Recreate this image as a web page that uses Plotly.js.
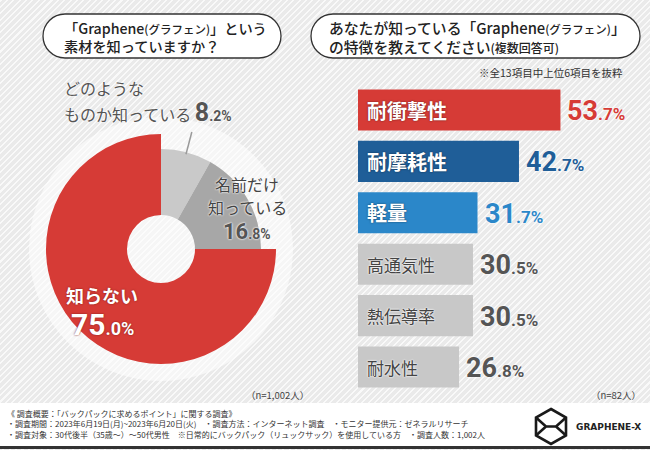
<!DOCTYPE html>
<html>
<head>
<meta charset="utf-8">
<script src="https://cdn.plot.ly/plotly-3.0.1.min.js"></script>
<style>
body { margin: 0; }
#chart {
    width: 650px;
    height: 450px;
    background-color: #eeeeee;
    background-image: repeating-linear-gradient(135deg, #f9f9f9 0px, #f9f9f9 1.5px, #eaeaea 1.5px, #eaeaea 4.5px);
}
</style>
</head>
<body>
<div id="chart"></div>
<script>
'use strict';

var W = 650, H = 450;

// Q1: awareness (n=1,002)
var awareLabels = ['どのような\nものか知っている', '名前だけ\n知っている', '知らない'];
var awareValues = [8.2, 16.8, 75.0];
var awareColors = ['#c9c9c9', '#a7a7a7', '#d63b36'];

// Q2: known features (n=82), top 6 of 13
var featLabels = ['耐衝撃性', '耐摩耗性', '軽量', '高通気性', '熱伝導率', '耐水性'];
var featValues = [53.7, 42.7, 31.7, 30.5, 30.5, 26.8];
var featColors = ['#d63b36', '#1f5e98', '#2b87c9', '#c8c8c8', '#c8c8c8', '#c8c8c8'];
var featValueColors = ['#d63b36', '#1f5e98', '#2b87c9', '#555555', '#555555', '#555555'];

var titles = [
    ['「Graphene<span style="font-size:11.5px">(グラフェン)</span>」という', '素材を知っていますか？'],
    ['あなたが知っている「Graphene<span style="font-size:11.5px">(グラフェン)</span>」', 'の特徴を教えてください<span style="font-size:12px">(複数回答可)</span>']
];
var footLines = [
    '《 調査概要：「バックパックに求めるポイント」に関する調査》',
    '・調査期間：2023年6月19日(月)~2023年6月20日(火)　・調査方法：インターネット調査　・モニター提供元：ゼネラルリサーチ',
    '・調査対象：30代後半（35歳〜）〜50代男性　※日常的にバックパック（リュックサック）を使用している方　・調査人数：1,002人'
];

var JP = 'Noto Sans CJK JP, sans-serif';
var NUM = 'Roboto, sans-serif';

function px (x) { return x / W; }
function py (y) { return 1 - y / H; }

function note (x, y, text, font, xanchor) {
    return {
        xref: 'paper', yref: 'paper', x: px(x), y: py(y),
        text: text, showarrow: false,
        xanchor: xanchor || 'left', yanchor: 'middle',
        align: xanchor === 'center' ? 'center' : 'left',
        font: font
    };
}

function pct (v, big, small) {
    var s = v.toFixed(1).split('.');
    return '<span style="font-size:' + big + 'px">' + s[0] + '</span>' +
        '<span style="font-size:' + small + 'px">.' + s[1] + '%</span>';
}

function pill (x0, y0, x1, y1) {
    var r = (y1 - y0) / 2, k = 0.5523 * r;
    var p = function (x, y) { return px(x).toFixed(5) + ',' + py(y).toFixed(5); };
    return 'M' + p(x0 + r, y0) + ' L' + p(x1 - r, y0) +
        ' C' + p(x1 - r + k, y0) + ' ' + p(x1, y0 + r - k) + ' ' + p(x1, y0 + r) +
        ' C' + p(x1, y0 + r + k) + ' ' + p(x1 - r + k, y1) + ' ' + p(x1 - r, y1) +
        ' L' + p(x0 + r, y1) +
        ' C' + p(x0 + r - k, y1) + ' ' + p(x0, y0 + r + k) + ' ' + p(x0, y0 + r) +
        ' C' + p(x0, y0 + r - k) + ' ' + p(x0 + r - k, y0) + ' ' + p(x0 + r, y0) + ' Z';
}

function poly (pts, close) {
    return pts.map(function (q, i) {
        return (i ? 'L' : 'M') + px(q[0]).toFixed(5) + ',' + py(q[1]).toFixed(5);
    }).join(' ') + (close ? ' Z' : '');
}

// Donut geometry (pixels)
var cx = 161, cy = 249, rOuter = 115, rInner = 100, rHole = 34;
function dom (r) {
    return { x: [px(cx - r), px(cx + r)], y: [py(cy + r), py(cy - r)] };
}

var outerColors = awareColors.map(function (c, i) { return i === 2 ? c : 'rgba(0,0,0,0)'; });
var innerColors = awareColors.map(function (c, i) { return i === 2 ? 'rgba(0,0,0,0)' : c; });

var traces = [
    {
        type: 'pie', values: awareValues, labels: awareLabels,
        marker: { colors: outerColors, line: { width: 0 } },
        domain: dom(rOuter), hole: rHole / rOuter,
        sort: false, direction: 'clockwise', rotation: 0,
        textinfo: 'none', hoverinfo: 'none', showlegend: false
    },
    {
        type: 'pie', values: awareValues, labels: awareLabels,
        marker: { colors: innerColors, line: { width: 0 } },
        domain: dom(rInner), hole: rHole / rInner,
        sort: false, direction: 'clockwise', rotation: 0,
        textinfo: 'none', hoverinfo: 'none', showlegend: false
    },
    {
        type: 'bar', orientation: 'h',
        x: featValues, y: featLabels,
        xaxis: 'x', yaxis: 'y',
        marker: { color: featColors, line: { width: 0 } },
        hoverinfo: 'none', showlegend: false
    }
];

var annotations = [];
var halo = '0px 0px 2px #ffffff, 0px 0px 2px #ffffff';
var numFont = function (size, color, shadow) {
    return { family: NUM, size: size, color: color, weight: 'bold', shadow: shadow || halo };
};
var labFont = { family: JP, size: 16, color: '#555', shadow: halo };

// titles in pills
annotations.push(note(62, 37, titles[0].join('<br>'), { family: JP, size: 14.2, color: '#222', weight: 500 }));
annotations.push(note(327, 36.5, titles[1].join('<br>'), { family: JP, size: 14.8, color: '#222', weight: 500 }));

// pie labels
var lab0 = awareLabels[0].split('\n');
annotations.push(note(62, 88, lab0[0], labFont));
annotations.push(note(62, 113, lab0[1] + ' <span style="font-family:Roboto;font-weight:bold">' +
    pct(awareValues[0], 25, 14) + '</span>', labFont));
var lab1 = awareLabels[1].split('\n');
annotations.push(note(247, 184, lab1[0], { family: JP, size: 16, color: '#444', shadow: halo }, 'center'));
annotations.push(note(247, 207, lab1[1], { family: JP, size: 16, color: '#444', shadow: halo }, 'center'));
annotations.push(note(247, 231, pct(awareValues[1], 22, 14), numFont(14, '#555'), 'center'));
annotations.push(note(102, 295, awareLabels[2],
    { family: JP, size: 18, color: '#ffffff', weight: 'bold', shadow: '0px 0px 2px #7a1a17' }, 'center'));
annotations.push(note(102, 324, pct(awareValues[2], 30, 18), numFont(18, '#ffffff', '0px 0px 2px #7a1a17'), 'center'));

// bar labels and values
featLabels.forEach(function (lab, i) {
    var coloured = i < 3;
    annotations.push({
        xref: 'x', yref: 'y', x: 0, y: lab, xanchor: 'left', yanchor: 'middle',
        xshift: 7, showarrow: false, text: lab,
        font: coloured ?
            { family: JP, size: 20, color: '#ffffff', weight: 'bold', shadow: '0px 0px 2px rgba(0,0,0,0.55)' } :
            { family: JP, size: 17, color: '#444444', shadow: halo }
    });
    annotations.push({
        xref: 'x', yref: 'y', x: featValues[i], y: lab, xanchor: 'left', yanchor: 'middle',
        xshift: 5, yshift: -1, showarrow: false, text: pct(featValues[i], 27, 17),
        font: numFont(17, featValueColors[i])
    });
});

annotations.push(note(625, 72, '※全13項目中上位6項目を抜粋', { family: JP, size: 10.5, color: '#333' }, 'right'));
annotations.push(note(311, 395, '（n=1,002人）', { family: JP, size: 9.5, color: '#444' }, 'right'));
annotations.push(note(643, 395, '（n=82人）', { family: JP, size: 9.5, color: '#444' }, 'right'));

annotations.push(note(5, 424, footLines.join('<br>'), { family: JP, size: 8, color: '#333' }));
annotations.push(note(574, 427, 'GRAPHENE-X', { family: 'DejaVu Sans, sans-serif', size: 9, color: '#222', weight: 'bold' }));

// leader line for the smallest slice, along its mid-angle
var midA = awareValues[0] / 2 / 100 * 2 * Math.PI;
var leader = [[cx + 98 * Math.sin(midA), cy - 98 * Math.cos(midA)], [cx + 121 * Math.sin(midA), cy - 121 * Math.cos(midA)]];

var shapes = [
    // soft halo behind donut
    { type: 'circle', xref: 'paper', yref: 'paper', layer: 'below',
        x0: px(cx - 132), x1: px(cx + 132), y0: py(cy + 132), y1: py(cy - 132),
        fillcolor: 'rgba(255,255,255,0.55)', line: { width: 0 } },
    // pills
    { type: 'path', xref: 'paper', yref: 'paper', layer: 'below', path: pill(43, 14, 281, 58),
        fillcolor: '#ffffff', line: { color: '#333', width: 1.3 } },
    { type: 'path', xref: 'paper', yref: 'paper', layer: 'below', path: pill(311, 14, 640, 58),
        fillcolor: '#ffffff', line: { color: '#333', width: 1.3 } },
    // footer band
    { type: 'rect', xref: 'paper', yref: 'paper', layer: 'below',
        x0: 0, x1: 1, y0: py(446), y1: py(403), fillcolor: '#ffffff', line: { width: 0 } },
    { type: 'rect', xref: 'paper', yref: 'paper', layer: 'below',
        x0: 0, x1: 1, y0: py(449), y1: py(446), fillcolor: '#333333', line: { width: 0 } },
    // leader
    { type: 'line', xref: 'paper', yref: 'paper',
        x0: px(leader[0][0]), y0: py(leader[0][1]), x1: px(leader[1][0]), y1: py(leader[1][1]),
        line: { color: '#9a9a9a', width: 1.5 } },
    // logo
    { type: 'path', xref: 'paper', yref: 'paper',
        path: poly([[551, 409], [566, 417.5], [566, 435.5], [551, 444], [536, 435.5], [536, 417.5]], true),
        line: { color: '#1a1a1a', width: 2.6 } },
    { type: 'path', xref: 'paper', yref: 'paper',
        path: poly([[536, 417.5], [546, 426.5], [536, 435.5]]) + ' ' +
            poly([[566, 417.5], [556, 426.5], [566, 435.5]]) + ' ' +
            poly([[546, 426.5], [556, 426.5]]),
        line: { color: '#1a1a1a', width: 2.6 } }
];

var layout = {
    width: W, height: H,
    margin: { l: 0, r: 0, t: 0, b: 0 },
    paper_bgcolor: 'rgba(0,0,0,0)',
    plot_bgcolor: 'rgba(0,0,0,0)',
    showlegend: false,
    bargap: 0.2,
    xaxis: { domain: [px(358), px(640.75)], range: [0, 75], visible: false, fixedrange: true },
    yaxis: { domain: [py(392.7), py(84.3)], type: 'category', autorange: 'reversed', visible: false, fixedrange: true },
    annotations: annotations,
    shapes: shapes
};

Plotly.newPlot('chart', traces, layout, { displayModeBar: false, staticPlot: true });
</script>
</body>
</html>
